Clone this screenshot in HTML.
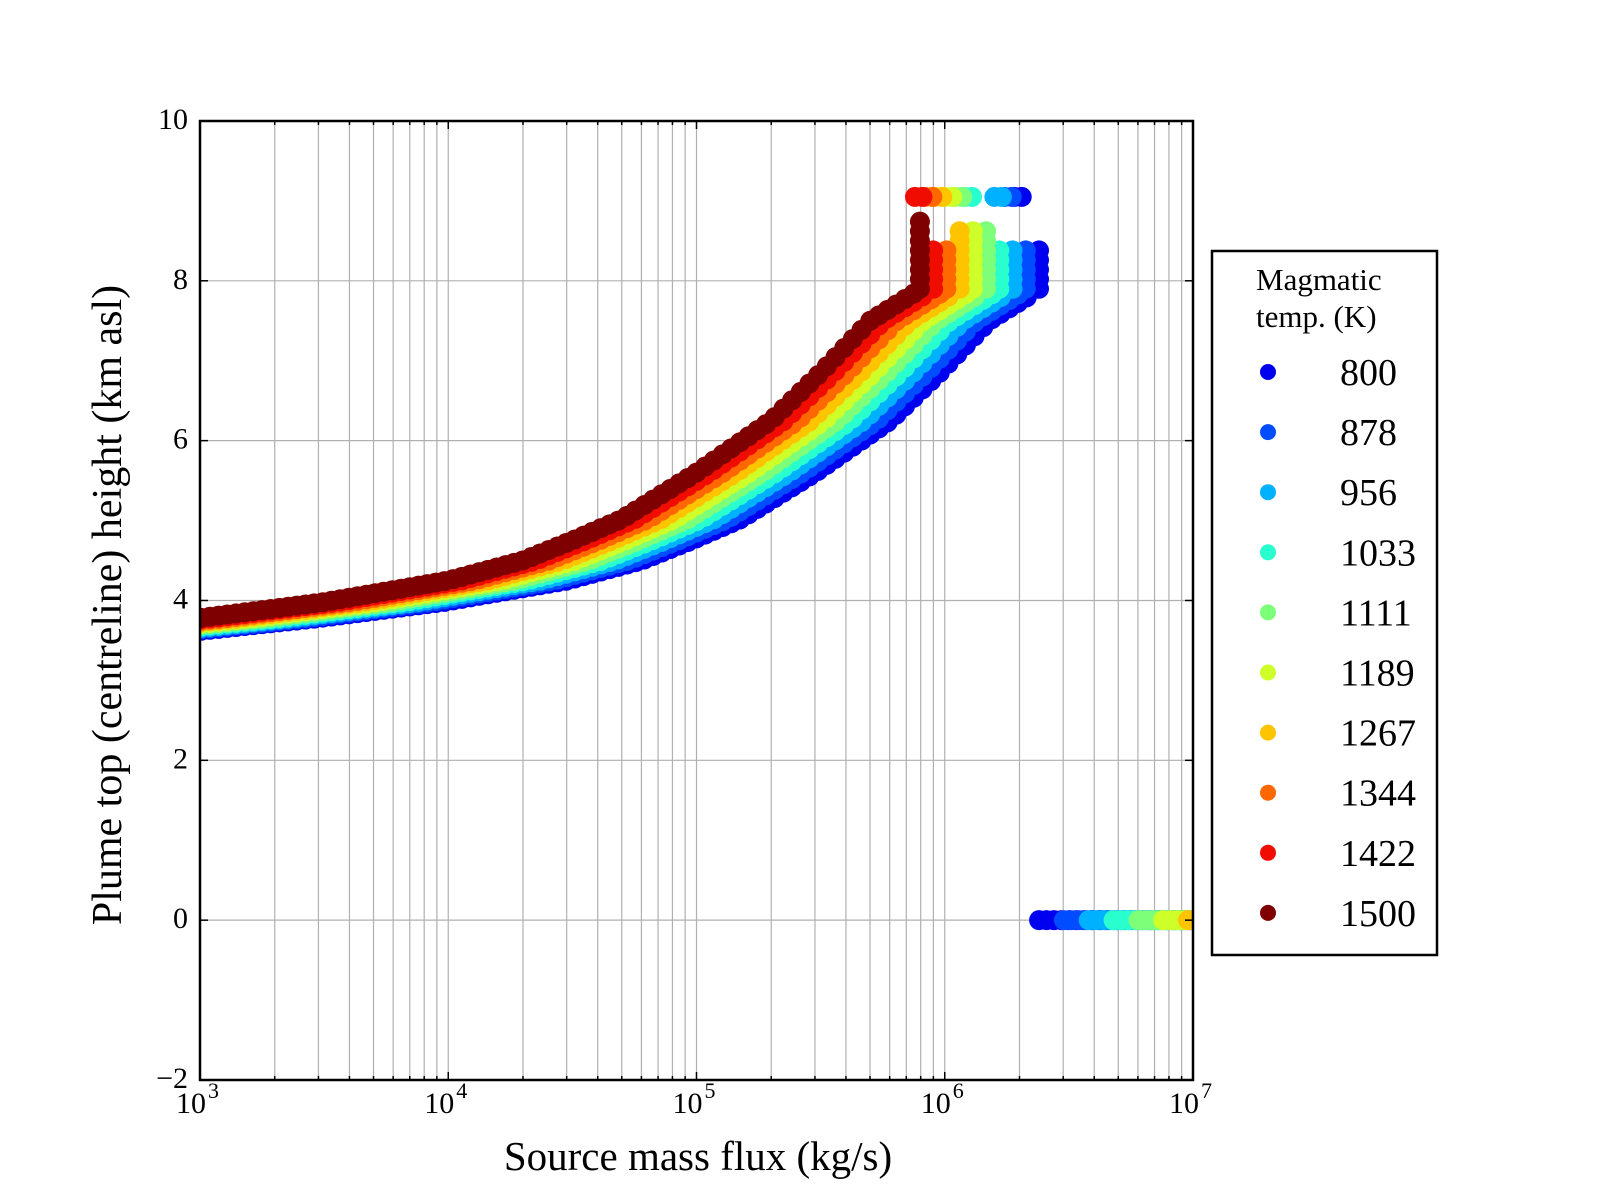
<!DOCTYPE html>
<html><head><meta charset="utf-8"><style>
body{margin:0;background:#fff;}
svg{display:block;font-family:"Liberation Serif",serif;}
</style></head><body>
<svg id="s" width="1600" height="1200" xmlns="http://www.w3.org/2000/svg">
<defs><clipPath id="c"><rect x="200" y="121" width="993" height="959"/></clipPath></defs>
<rect width="1600" height="1200" fill="#fff"/>
<g id="grid" stroke="#b0b0b0" stroke-width="1.2"></g>
<g id="pts" clip-path="url(#c)"></g>
<g id="ticks" stroke="#000" stroke-width="1.5"></g>
<rect x="200" y="121" width="993" height="959" fill="none" stroke="#000" stroke-width="2.5"/>
<g id="lab" font-size="30" fill="#000"></g>
<text x="698" y="1170" font-size="41" text-anchor="middle">Source mass flux (kg/s)</text>
<text transform="translate(121,605) rotate(-90)" font-size="42" text-anchor="middle">Plume top (centreline) height (km asl)</text>
<rect x="1212" y="251" width="225" height="704" fill="#fff" stroke="#000" stroke-width="2.5"/>
<text x="1256" y="290" font-size="31">Magmatic</text>
<text x="1256" y="327" font-size="31">temp. (K)</text>
<g id="leg"></g>
</svg>
<script>
const X=l=>200+(l-3)*248.25, Y=v=>1080-(v+2)*79.92;
const ns="http://www.w3.org/2000/svg";
function el(p,t,a,txt){const e=document.createElementNS(ns,t);for(const k in a)e.setAttribute(k,a[k]);if(txt!=null)e.textContent=txt;p.appendChild(e);return e;}
const g=document.getElementById('grid'),tk=document.getElementById('ticks'),lab=document.getElementById('lab');
for(let d=3;d<7;d++)for(let m=1;m<10;m++){const x=X(d+Math.log10(m));if(m>1||d>3){el(g,'line',{x1:x,x2:x,y1:121,y2:1080});}
 const L=m==1?8:4;el(tk,'line',{x1:x,x2:x,y1:1080,y2:1080-L});el(tk,'line',{x1:x,x2:x,y1:121,y2:121+L});}
for(let v=0;v<=8;v+=2){const y=Y(v);el(g,'line',{x1:200,x2:1193,y1:y,y2:y});}
for(let v=-2;v<=10;v+=2){const y=Y(v);el(tk,'line',{x1:200,x2:208,y1:y,y2:y});el(tk,'line',{x1:1193,x2:1185,y1:y,y2:y});
 el(lab,'text',{x:188,y:y+8,'text-anchor':'end'},v<0?'\u22122':String(v));}
for(let d=3;d<=7;d++){el(lab,'text',{x:X(d)-9,y:1113,'text-anchor':'middle'},'10');el(lab,'text',{x:X(d)+8,y:1098,'font-size':22},String(d));}
const cols=['#0000f1','#004dff','#00b1ff','#29ffce','#7dff7a','#ceff29','#ffc400','#ff6800','#f10c00','#7f0000'];
const temps=[800,878,956,1033,1111,1189,1267,1344,1422,1500];
const F=[[2.4,3.58],[3.0,3.78],[3.5,3.98],[4.0,4.25],[4.3,4.5],[4.5,4.75],[4.7,5.02],[5.0,5.6],[5.3,6.25],[5.5,6.85],[5.7,7.5],[5.88,7.85]];
function f(l){if(l<=F[0][0])return F[0][1];for(let i=1;i<F.length;i++)if(l<=F[i][0]){const a=F[i-1],b=F[i];return a[1]+(b[1]-a[1])*(l-a[0])/(b[0]-a[0]);}return F[F.length-1][1];}
const P=document.getElementById('pts');
for(let i=0;i<10;i++){const sh=(9-i)*0.0533,c=cols[i];const end=5.88+sh;
 const dot=(l,v)=>el(P,'circle',{cx:X(l),cy:Y(v),r:10,fill:c});
 for(let l=2.9;l<=end;l+=0.035)dot(l,f(l-sh));
 const top=i==9?8.75:(i>=4&&i<=6?8.7:8.4);
 for(let v=7.9;v<=top;v+=0.12)dot(end+0.02,v);
 if(i<9){let tx=5.88+(8-i)*0.04+(i<3?0.08:0);dot(tx,9.05);dot(tx+0.03,9.05);}
 for(let l=6.38+0.1*i;l<=7.1;l+=0.03)dot(l,0);}
const lg=document.getElementById('leg');
temps.forEach((t,i)=>{const y=372+i*60.1;el(lg,'circle',{cx:1268,cy:y,r:8,fill:cols[i]});el(lg,'text',{x:1340,y:y+13,'font-size':38},String(t));});
</script>
</body></html>
